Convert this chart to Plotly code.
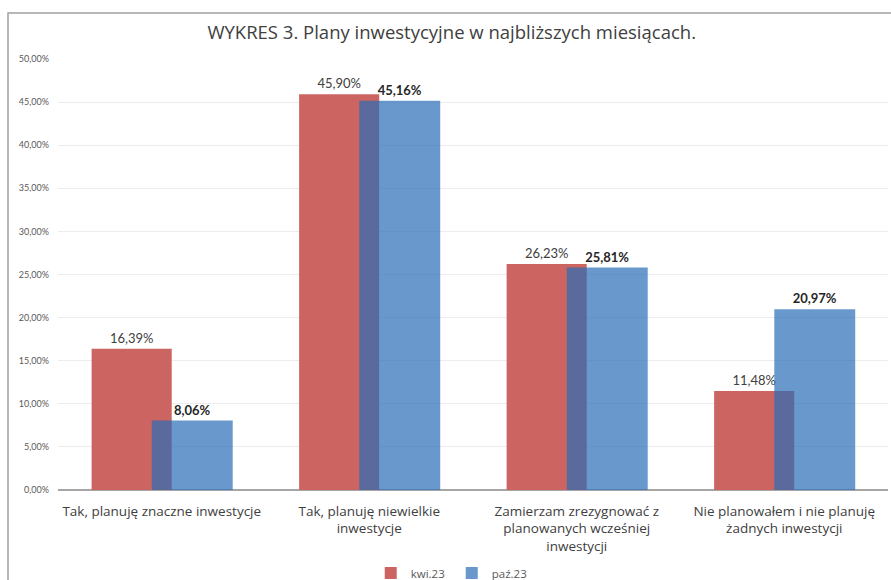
import plotly.graph_objects as go

categories = [
    "Tak, planuję znaczne inwestycje",
    "Tak, planuję niewielkie<br>inwestycje",
    "Zamierzam zrezygnować z<br>planowanych wcześniej<br>inwestycji",
    "Nie planowałem i nie planuję<br>żadnych inwestycji",
]
series_names = ["kwi.23", "paź.23"]
kwi23 = [0.1639, 0.4590, 0.2623, 0.1148]
paz23 = [0.0806, 0.4516, 0.2581, 0.2097]
ytick_vals = [0, 0.05, 0.10, 0.15, 0.20, 0.25, 0.30, 0.35, 0.40, 0.45, 0.50]

FONT = "Lato"
FONT2 = "Open Sans"
idx = list(range(len(categories)))

fig = go.Figure()
fig.add_trace(go.Bar(
    x=idx, y=kwi23, name=series_names[0],
    width=0.386, offset=-0.338,
    marker=dict(color="rgb(204,100,98)", line=dict(width=0)),
    texttemplate="%{y:.2%}", textposition="outside",
    textfont=dict(family=FONT, size=13, color="#404040"),
    cliponaxis=False,
))
fig.add_trace(go.Bar(
    x=idx, y=paz23, name=series_names[1],
    width=0.39, offset=-0.048,
    marker=dict(color="rgba(42,108,182,0.7)", line=dict(width=0)),
    texttemplate="<b>%{y:.2%}</b>", textposition="outside",
    textfont=dict(family=FONT, size=13, color="#262626"),
    cliponaxis=False,
))

fig.update_layout(
    width=891, height=580,
    margin=dict(l=58, r=3, t=59, b=90, autoexpand=False),
    paper_bgcolor="white", plot_bgcolor="white",
    separators=",.",
    barmode="overlay",
    font=dict(family=FONT, color="#404040"),
    title=dict(
        text="WYKRES 3. Plany inwestycyjne w najbliższych miesiącach.",
        x=0.507, xanchor="center", y=1 - 33 / 580, yanchor="middle",
        xref="container", yref="container",
        font=dict(family=FONT2, size=18.5, color="#404040"),
    ),
    xaxis=dict(
        range=[-0.5, 3.5],
        tickvals=idx, ticktext=categories,
        tickfont=dict(family=FONT2, size=13.5, color="#404040"),
        showgrid=False, zeroline=False, showline=False, ticks="",
        ticklabelstandoff=11, automargin=False,
    ),
    yaxis=dict(
        range=[0, 0.5], tickvals=ytick_vals, tickformat=".2%",
        tickfont=dict(family=FONT, size=9, color="#595959"),
        showgrid=True, gridcolor="#ececec", gridwidth=1,
        zeroline=True, zerolinecolor="#a6a6a6", zerolinewidth=1.5,
        showline=False, ticks="", ticklabelstandoff=8, automargin=False,
    ),
    legend=dict(
        orientation="h", x=0.507, xanchor="center",
        xref="container", yref="container",
        y=1 - 573 / 580, yanchor="middle",
        font=dict(family=FONT2, size=11.5, color="#595959"),
        itemwidth=30, entrywidth=36, traceorder="normal",
    ),
    shapes=[dict(
        type="rect", xref="paper", yref="paper",
        x0=(8 - 58) / 830, x1=1.02, y0=-0.3, y1=1 + (59 - 13) / 431,
        line=dict(color="#a0a0a0", width=1.5), fillcolor="rgba(0,0,0,0)",
        layer="below",
    )],
)

fig.write_html("out.html")
